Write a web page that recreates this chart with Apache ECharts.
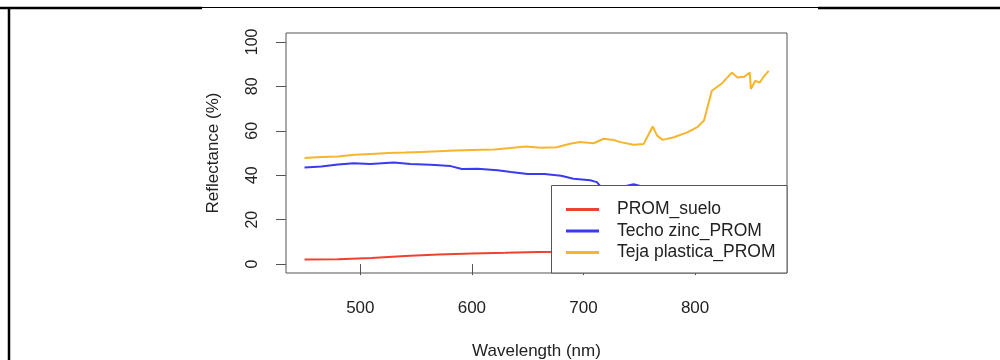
<!DOCTYPE html>
<html>
<head>
<meta charset="utf-8">
<script src="https://cdn.jsdelivr.net/npm/echarts@6/dist/echarts.min.js"></script>
<style>
  html, body { margin: 0; padding: 0; background: #fff; }
  #myChart { width: 1000px; height: 360px; }
</style>
</head>
<body>
<div id="myChart"></div>
<script>
var myChart = echarts.init(document.getElementById('myChart'));

// longitudes de onda (nm) y reflectancia (%)
var wlTeja = [450, 465, 480, 495, 510, 525, 540, 555, 570, 585, 600, 620, 635, 648, 662, 676, 688, 697, 709, 718, 727, 733, 745, 754, 758, 762, 766, 771, 781, 793, 802, 808, 815, 824, 833, 838, 844, 849, 850, 854, 858, 861, 866];
var teja = [47.7, 48.2, 48.4, 49.2, 49.6, 50.0, 50.2, 50.5, 50.8, 51.1, 51.4, 51.6, 52.2, 52.9, 52.4, 52.6, 54.2, 54.9, 54.4, 56.4, 55.9, 54.9, 53.7, 54.1, 58.0, 61.9, 57.8, 55.9, 57.1, 59.3, 61.6, 64.6, 78.0, 81.3, 86.2, 84.0, 84.3, 86.2, 78.8, 82.5, 81.7, 84.0, 87.0];

var wlZinc = [450, 465, 480, 494, 509, 530, 545, 563, 581, 591, 605, 623, 635, 650, 665, 680, 691, 706, 712, 716, 722, 730, 738, 745, 750, 756, 770, 790, 810, 830, 850, 866];
var zinc = [43.5, 43.9, 44.8, 45.4, 45.1, 45.7, 45.1, 44.7, 44.1, 42.8, 42.9, 42.2, 41.4, 40.5, 40.6, 39.8, 38.4, 37.7, 36.9, 34.5, 32.5, 33.5, 35.2, 35.9, 35.3, 33.0, 32.0, 31.0, 30.0, 29.5, 29.0, 28.5];

var wlSuelo = [450, 480, 510, 540, 570, 600, 630, 660, 680, 700, 730, 760, 790, 820, 850, 866];
var suelo = [2.1, 2.2, 2.7, 3.6, 4.3, 4.8, 5.1, 5.5, 5.6, 5.9, 6.4, 7.0, 8.0, 10.5, 12.0, 12.5];

var seriesNames = ['PROM_suelo', 'Techo zinc_PROM', 'Teja plastica_PROM'];
var seriesColors = ['#f0402f', '#3a3aee', '#f6b52c'];

var xTicks = [500, 600, 700, 800];
var yTicks = [0, 20, 40, 60, 80, 100];

function zip(xs, ys) {
    var out = [];
    for (var i = 0; i < xs.length; i++) {
        out.push([xs[i], ys[i]]);
    }
    return out;
}

var axisColor = '#555';
var textColor = '#222';
var font = 'Liberation Sans';

myChart.setOption({
    animation: false,
    backgroundColor: '#fff',
    grid: {left: 286, right: 213, top: 33, bottom: 87, outerBoundsMode: 'none', containLabel: false, show: true, borderColor: axisColor, borderWidth: 1},
    xAxis: {
        type: 'value', min: 433.4, max: 882.4,
        name: 'Wavelength (nm)', nameLocation: 'middle', nameGap: 70,
        nameTextStyle: {fontFamily: font, fontSize: 17, color: textColor},
        axisLine: {show: false},
        axisTick: {show: true, length: 11, customValues: xTicks, lineStyle: {color: axisColor}},
        axisLabel: {customValues: xTicks, margin: 27, fontFamily: font, fontSize: 17, color: textColor},
        splitLine: {show: false}
    },
    yAxis: {
        type: 'value', min: -4, max: 104,
        name: 'Reflectance (%)', nameLocation: 'middle', nameGap: 64, nameRotate: 90,
        nameTextStyle: {fontFamily: font, fontSize: 17, color: textColor},
        axisLine: {show: false},
        axisTick: {show: true, length: 10, customValues: yTicks, lineStyle: {color: axisColor}},
        axisLabel: {customValues: yTicks, rotate: 90, margin: 25, fontFamily: font, fontSize: 16, color: textColor},
        splitLine: {show: false}
    },
    legend: {
        orient: 'vertical', left: 566, top: 199.5, padding: 0, z: 30,
        itemWidth: 33, itemHeight: 3, itemGap: 1.5, icon: 'rect',
        textStyle: {fontFamily: font, fontSize: 17.5, color: textColor, lineHeight: 20, padding: [0, 0, 0, 13]},
        data: seriesNames
    },
    graphic: [
        {type: 'rect', z: 20, shape: {x: 551.5, y: 185.5, width: 235.5, height: 87.5}, style: {fill: '#fff', stroke: axisColor, lineWidth: 1}},
        {type: 'line', shape: {x1: 9, y1: 7, x2: 9, y2: 360}, style: {stroke: '#000', lineWidth: 2.5}},
        {type: 'line', shape: {x1: 0, y1: 8, x2: 202, y2: 8}, style: {stroke: '#000', lineWidth: 2.5}},
        {type: 'line', shape: {x1: 202, y1: 7.5, x2: 818, y2: 7.5}, style: {stroke: '#000', lineWidth: 1}},
        {type: 'line', shape: {x1: 818, y1: 8, x2: 1000, y2: 8}, style: {stroke: '#000', lineWidth: 2.5}}
    ],
    series: [
        {name: seriesNames[0], type: 'line', data: zip(wlSuelo, suelo), showSymbol: false, color: seriesColors[0], lineStyle: {width: 2}},
        {name: seriesNames[1], type: 'line', data: zip(wlZinc, zinc), showSymbol: false, color: seriesColors[1], lineStyle: {width: 2}},
        {name: seriesNames[2], type: 'line', data: zip(wlTeja, teja), showSymbol: false, color: seriesColors[2], lineStyle: {width: 2}}
    ]
});
</script>
</body>
</html>
